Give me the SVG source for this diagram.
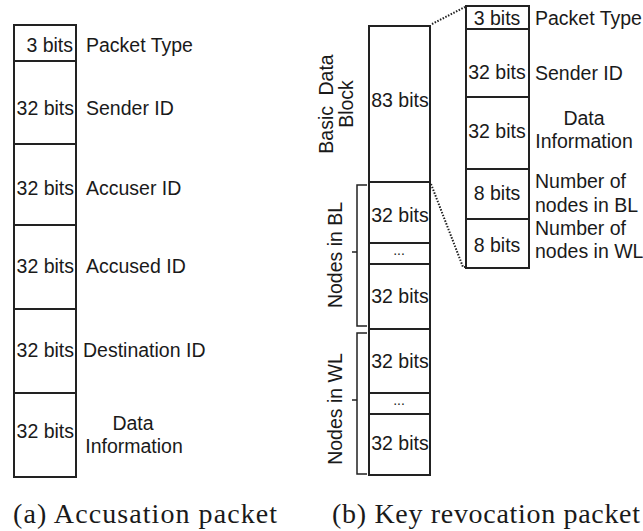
<svg xmlns="http://www.w3.org/2000/svg" width="643" height="531" viewBox="0 0 643 531">
<style>
.box{fill:#fff;stroke:#222;stroke-width:2}
.div{stroke:#222;stroke-width:2}
.br{fill:none;stroke:#222;stroke-width:1.5}
.dot{fill:none;stroke:#222;stroke-width:2;stroke-dasharray:1.5,1.5}
text{font-family:"Liberation Sans",Arial,sans-serif;font-size:19.5px;fill:#1a1a1a}
.e{text-anchor:end}
.m{text-anchor:middle}
.cap{font-family:"Liberation Serif","Times New Roman",serif;font-size:28px}
</style>
<rect width="643" height="531" fill="#fff"/>
<!-- (a) Accusation packet -->
<g id="acc-packet">
<rect class="box" x="14" y="25" width="62" height="452"/>
<line class="div" x1="14" y1="61" x2="76" y2="61"/>
<line class="div" x1="14" y1="144" x2="76" y2="144"/>
<line class="div" x1="14" y1="225" x2="76" y2="225"/>
<line class="div" x1="14" y1="309" x2="76" y2="309"/>
<line class="div" x1="14" y1="393" x2="76" y2="393"/>
</g>
<g id="a-type"><text class="e" x="73" y="52">3 bits</text><text x="86" y="52">Packet Type</text></g>
<g id="a-sender"><text class="e" x="74" y="115">32 bits</text><text x="86" y="115">Sender ID</text></g>
<g id="a-accuser"><text class="e" x="74" y="195">32 bits</text><text x="86" y="195">Accuser ID</text></g>
<g id="a-accused"><text class="e" x="74" y="273">32 bits</text><text x="86" y="273">Accused ID</text></g>
<g id="a-dest"><text class="e" x="74" y="357">32 bits</text><text x="83" y="357">Destination ID</text></g>
<g id="a-data"><text class="e" x="74" y="438">32 bits</text><text class="m" x="133" y="430">Data</text><text class="m" x="134" y="453">Information</text></g>

<!-- (b) Key revocation packet: middle column -->
<g id="kr-packet">
<rect class="box" x="369" y="26" width="61" height="449"/>
<line class="div" x1="369" y1="182" x2="430" y2="182"/>
<line class="div" x1="369" y1="243" x2="430" y2="243"/>
<line class="div" x1="369" y1="264" x2="430" y2="264"/>
<line class="div" x1="369" y1="329" x2="430" y2="329"/>
<line class="div" x1="369" y1="393" x2="430" y2="393"/>
<line class="div" x1="369" y1="414" x2="430" y2="414"/>
<text class="m" x="400" y="107">83 bits</text>
<text class="m" x="400" y="222">32 bits</text>
<text class="m" x="399" y="255" style="font-size:14px">...</text>
<text class="m" x="400" y="303">32 bits</text>
<text class="m" x="400" y="368">32 bits</text>
<text class="m" x="399" y="405" style="font-size:14px">...</text>
<text class="m" x="400" y="450">32 bits</text>
</g>
<g id="basic-label">
<text class="m" transform="translate(333,104) rotate(-90)" style="word-spacing:5px">Basic Data</text>
<text class="m" transform="translate(353,104) rotate(-90)">Block</text>
</g>
<g id="bl-group">
<path class="br" d="M367,185 H357 V326 H367 M357,252 H352"/>
<text class="m" transform="translate(342,255) rotate(-90)">Nodes in BL</text>
</g>
<g id="wl-group">
<path class="br" d="M367,333 H357 V474 H367 M357,400 H352"/>
<text class="m" transform="translate(342,409) rotate(-90)">Nodes in WL</text>
</g>

<!-- detail column -->
<g id="detail">
<rect class="box" x="466" y="6" width="63" height="262"/>
<line class="div" x1="466" y1="29" x2="529" y2="29"/>
<line class="div" x1="466" y1="97" x2="529" y2="97"/>
<line class="div" x1="466" y1="169" x2="529" y2="169"/>
<line class="div" x1="466" y1="219" x2="529" y2="219"/>
</g>
<g id="d-type"><text class="m" x="497" y="25">3 bits</text><text x="535" y="25">Packet Type</text></g>
<g id="d-sender"><text class="m" x="497" y="79">32 bits</text><text x="535" y="80">Sender ID</text></g>
<g id="d-data"><text class="m" x="497" y="138">32 bits</text><text class="m" x="584" y="125">Data</text><text class="m" x="584" y="148">Information</text></g>
<g id="d-bl"><text class="m" x="497" y="200">8 bits</text><text x="535" y="188">Number of</text><text x="535" y="212">nodes in BL</text></g>
<g id="d-wl"><text class="m" x="497" y="252">8 bits</text><text x="535" y="235">Number of</text><text x="535" y="258">nodes in WL</text></g>

<g id="connectors">
<path class="dot" d="M432,24 L465,7"/>
<path class="dot" d="M431,184 L463,267 L466,267"/>
</g>

<g id="captions">
<text class="cap" x="13" y="523" textLength="264" lengthAdjust="spacing">(a) Accusation packet</text>
<text class="cap" x="332" y="523" textLength="308" lengthAdjust="spacing">(b) Key revocation packet</text>
</g>
</svg>
